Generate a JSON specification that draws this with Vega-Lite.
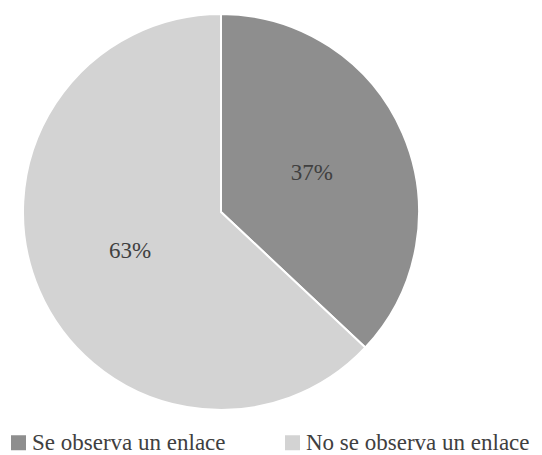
{
  "$schema": "https://vega.github.io/schema/vega-lite/v6.json",
  "width": 400,
  "height": 400,
  "padding": {"left": 21, "top": 12, "right": 121, "bottom": 43},
  "autosize": "none",
  "background": "white",
  "data": {"values": [
    {"cat": "Se observa un enlace", "value": 37, "label": "37%", "ord": 1},
    {"cat": "No se observa un enlace", "value": 63, "label": "63%", "ord": 2}
  ]},
  "encoding": {
    "theta": {"field": "value", "type": "quantitative", "stack": true},
    "order": {"field": "ord"}
  },
  "layer": [
    {
      "mark": {"type": "arc", "outerRadius": 198, "stroke": "white", "strokeWidth": 2},
      "encoding": {
        "color": {
          "field": "cat", "type": "nominal",
          "scale": {"domain": ["Se observa un enlace", "No se observa un enlace"], "range": ["#8e8e8e", "#d3d3d3"]},
          "legend": {
            "title": null, "orient": "none", "direction": "horizontal",
            "legendX": -14, "legendY": 419,
            "labelFont": "Liberation Serif", "labelFontSize": 23, "labelColor": "#404040",
            "symbolType": "square", "symbolSize": 225, "symbolStrokeWidth": 0,
            "labelOffset": 2, "columnPadding": 55, "labelLimit": 300
          }
        }
      }
    },
    {
      "mark": {"type": "text", "radius": 99, "font": "Liberation Serif", "fontSize": 23, "color": "#404040"},
      "encoding": {"text": {"field": "label"}}
    }
  ],
  "config": {"view": {"stroke": null}}
}
